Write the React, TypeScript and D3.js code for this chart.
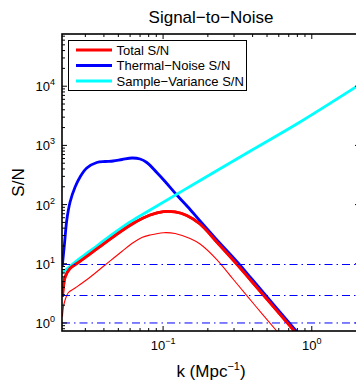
import React from 'react';
import * as d3 from 'd3';

// ---- Data ----
const totalK = [0.02103, 0.02143, 0.02193, 0.02369, 0.02694, 0.03229, 0.04401, 0.06315, 0.08178, 0.1005, 0.1204, 0.1443, 0.1773, 0.2297, 0.3194, 0.395, 0.7636, 0.974];
const totalSN = [2.75, 4.38, 5.98, 8.39, 10.52, 14.64, 26.2, 48.3, 66.7, 75.9, 75.0, 65.4, 47.0, 23.35, 9.36, 5.02, 0.732, 0.3575];

const thermalK = [0.02099, 0.02135, 0.02175, 0.02251, 0.02369, 0.0256, 0.02765, 0.03068, 0.03581, 0.04074, 0.04611, 0.05301, 0.06187, 0.07004, 0.07771, 0.0907, 0.1031, 0.1236, 0.1519, 0.1773, 0.2237, 0.3194, 0.395, 0.7843, 0.974];
const thermalSN = [9.18, 14.08, 22.5, 54.9, 110.7, 198.3, 292.6, 415.2, 514.2, 534.6, 545.1, 577.9, 612.8, 589.3, 514.2, 348.5, 245.6, 145.3, 82.7, 52.8, 27.3, 10.3, 5.54, 0.732, 0.386];

const sampleK = [0.02093, 0.0256, 0.03229, 0.04401, 0.05999, 0.08178, 0.1773, 0.3968, 0.8344, 2.113];
const sampleSN = [6.99, 10.72, 16.45, 29.5, 50.8, 81.1, 255.3, 836, 2485, 10770];

const halfK = [0.02103, 0.02143, 0.02193, 0.02308, 0.0256, 0.03145, 0.04074, 0.05277, 0.06315, 0.07192, 0.08178, 0.1005, 0.1204, 0.1519, 0.1773, 0.2297, 0.2971, 0.4156, 0.5815, 0.7146];
const halfSN = [1.277, 1.937, 2.446, 3.275, 3.902, 5.645, 9.54, 16.14, 22.9, 27.8, 30.6, 33.5, 32.5, 26.8, 21.6, 11.8, 5.43, 1.975, 0.732, 0.393];

const refLevels = [10, 3, 1];
const xDomain = [0.0209, 2.11];
const yDomain = [0.732, 76200];
const xMajorExps = [-2, -1, 0];
const yMajorExps = [0, 1, 2, 3, 4];
const legendLabels = ['Total S/N', 'Thermal\u2212Noise S/N', 'Sample\u2212Variance S/N'];
const legendColors = ['#ff0000', '#0000ff', '#00ffff'];

const W = 356;
const H = 381;
const L = 62, R = 360, T = 34, B = 331;
const FONT = '"Liberation Sans", Arial, Helvetica, sans-serif';

export default function App() {
  const x = d3.scaleLog().domain(xDomain).range([L, R]);
  const y = d3.scaleLog().domain(yDomain).range([B, T]);

  const mk = (ks: number[], vs: number[]) =>
    d3.line<number>()
      .x((_, i) => x(ks[i]))
      .y((_, i) => y(vs[i]))
      .curve(d3.curveCatmullRom.alpha(0.5))(vs) || '';

  const xMajor: number[] = [];
  const xMinor: number[] = [];
  for (const e of xMajorExps) {
    for (let m = 1; m <= 9; m++) {
      const v = m * Math.pow(10, e);
      if (v < xDomain[0] || v > xDomain[1]) continue;
      if (m === 1) xMajor.push(v); else xMinor.push(v);
    }
  }
  const yMajor: number[] = [];
  const yMinor: number[] = [];
  for (const e of [-1, ...yMajorExps]) {
    for (let m = 1; m <= 9; m++) {
      const v = m * Math.pow(10, e);
      if (v < yDomain[0] || v > yDomain[1]) continue;
      if (m === 1) yMajor.push(v); else yMinor.push(v);
    }
  }
  const majLen = 5, minLen = 3;
  const refY = (v: number) => (v === 1 ? y(v) : Math.round(y(v)) + 0.5);

  return (
    <svg width={W} height={H} style={{ position: 'absolute', left: 0, top: 0, background: '#fff' }} fontFamily={FONT}>
      <defs>
        <clipPath id="plotClip">
          <rect x={L} y={T} width={R - L} height={B - T} />
        </clipPath>
      </defs>
      <rect x={0} y={0} width={W} height={H} fill="#fff" />
      <text x={(L + R) / 2} y={23} textAnchor="middle" fontSize={17}>Signal{'\u2212'}to{'\u2212'}Noise</text>

      <g clipPath="url(#plotClip)">
        <path d={mk(totalK, totalSN)} fill="none" stroke="#ff0000" strokeWidth={2.8} />
        <path d={mk(thermalK, thermalSN)} fill="none" stroke="#0000ff" strokeWidth={2.8} />
        <path d={mk(sampleK, sampleSN)} fill="none" stroke="#00ffff" strokeWidth={2.8} />
        <path d={mk(halfK, halfSN)} fill="none" stroke="#ff0000" strokeWidth={1.1} />
        <path d={mk(totalK, totalSN)} fill="none" stroke="#ff0000" strokeWidth={2.8} />
        {refLevels.map((v, i) => (
          <line key={i} x1={L} x2={R} y1={refY(v)} y2={refY(v)} stroke="#0000ff" strokeWidth={1} strokeDasharray="8 4 1.5 4" />
        ))}
      </g>

      {/* ticks */}
      <g stroke="#000" strokeWidth={1}>
        {xMajor.map((v, i) => (
          <g key={'xM' + i}>
            <line x1={x(v)} x2={x(v)} y1={B} y2={B - majLen} />
            <line x1={x(v)} x2={x(v)} y1={T} y2={T + majLen} />
          </g>
        ))}
        {xMinor.map((v, i) => (
          <g key={'xm' + i}>
            <line x1={x(v)} x2={x(v)} y1={B} y2={B - minLen} />
            <line x1={x(v)} x2={x(v)} y1={T} y2={T + minLen} />
          </g>
        ))}
        {yMajor.map((v, i) => (
          <g key={'yM' + i}>
            <line x1={L} x2={L + majLen} y1={y(v)} y2={y(v)} />
            <line x1={R} x2={R - majLen} y1={y(v)} y2={y(v)} />
          </g>
        ))}
        {yMinor.map((v, i) => (
          <g key={'ym' + i}>
            <line x1={L} x2={L + minLen} y1={y(v)} y2={y(v)} />
            <line x1={R} x2={R - minLen} y1={y(v)} y2={y(v)} />
          </g>
        ))}
      </g>
      <rect x={L} y={T} width={R - L} height={B - T} fill="none" stroke="#000" strokeWidth={1.6} />

      {/* tick labels */}
      {xMajor.map((v, i) => (
        <text key={'xl' + i} x={x(v)} y={350} textAnchor="middle" fontSize={13} fill="#000">
          10<tspan fontSize={9} dy={-6}>{Math.round(Math.log10(v)) < 0 ? '\u2212' + Math.abs(Math.round(Math.log10(v))) : String(Math.round(Math.log10(v)))}</tspan>
        </text>
      ))}
      {yMajor.map((v, i) => (
        <text key={'yl' + i} x={55} y={y(v) + 5} textAnchor="end" fontSize={13} fill="#000">
          10<tspan fontSize={9} dy={-6}>{String(Math.round(Math.log10(v)))}</tspan>
        </text>
      ))}

      {/* axis labels */}
      <text x={(L + R) / 2} y={377} textAnchor="middle" fontSize={17}>
        k (Mpc<tspan fontSize={11} dy={-7}>{'\u2212'}1</tspan><tspan dy={7}>)</tspan>
      </text>
      <text transform={`translate(24,${(T + B) / 2}) rotate(-90)`} textAnchor="middle" fontSize={17}>S/N</text>

      {/* legend */}
      <rect x={68.5} y={40.5} width={178} height={50} fill="#fff" stroke="#000" strokeWidth={1} />
      {legendLabels.map((lab, i) => (
        <g key={'lg' + i}>
          <line x1={76} x2={112} y1={50 + i * 15.5} y2={50 + i * 15.5} stroke={legendColors[i]} strokeWidth={2.8} />
          <text x={116.5} y={50 + i * 15.5 + 4.5} fontSize={13} fill="#000">{lab}</text>
        </g>
      ))}
    </svg>
  );
}
